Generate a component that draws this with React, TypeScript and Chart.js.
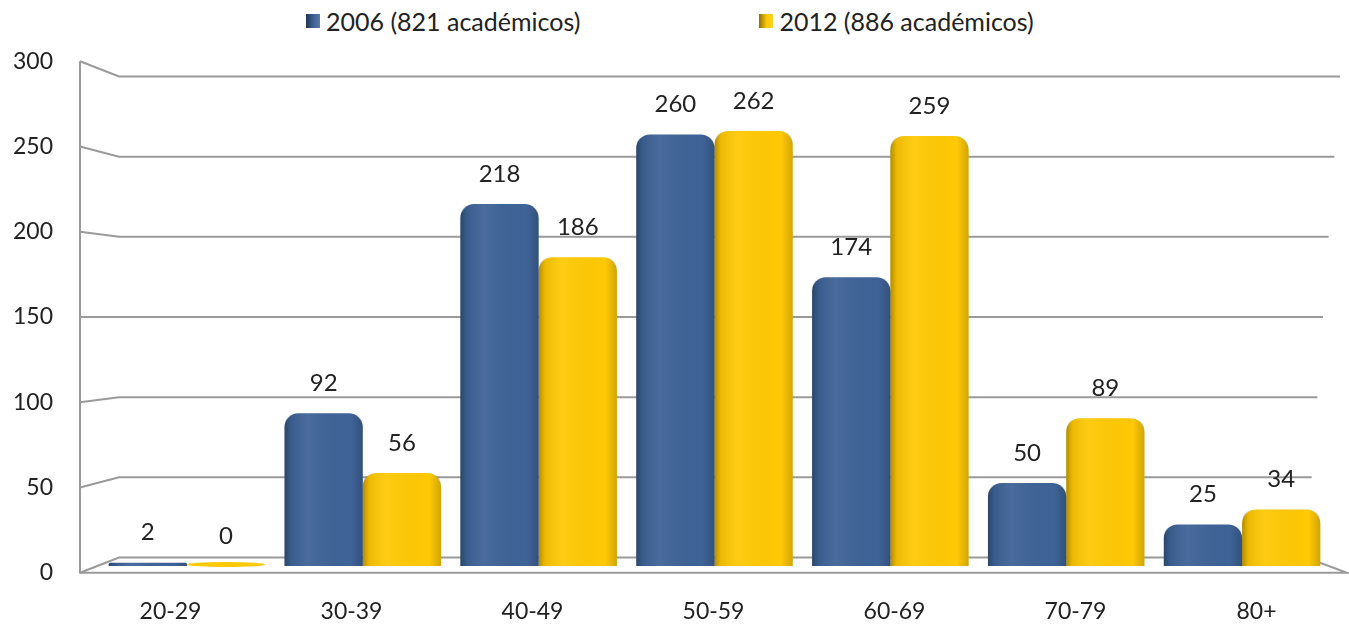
import React, { useEffect, useRef } from "react";
import { Chart, registerables } from "chart.js";

Chart.register(...registerables);

const categories = ["20-29", "30-39", "40-49", "50-59", "60-69", "70-79", "80+"];
const series2006 = [2, 92, 218, 260, 174, 50, 25];
const series2012 = [0, 56, 186, 262, 259, 89, 34];
const label2006 = "2006 (821 académicos)";
const label2012 = "2012 (886 académicos)";
const yTicks = [0, 50, 100, 150, 200, 250, 300];

const BLUE = "#3E6397";
const YELLOW = "#FFC905";
const GRID = "#9a9a9a";
const TEXT = "#222";
const FONT = "Lato, 'Open Sans', sans-serif";

// perspective geometry helpers (derived from the chart's own scales)
function geom(chart: any) {
  const { chartArea } = chart;
  const ys = chart.scales.y;
  const mid = ys.getPixelForValue(150);
  const frontY = (v: number) => mid + (ys.getPixelForValue(v) - mid) * 1.027;
  const backY = (v: number) => mid + (ys.getPixelForValue(v) - mid) * 0.966;
  const frontLeft = chartArea.left - 19;
  const frontRight = chartArea.right + 17;
  const backLeft = chartArea.left + 20;
  const backRight = (v: number) => chartArea.right - 24 + (34 * v) / 300;
  return { frontY, backY, frontLeft, frontRight, backLeft, backRight };
}

const walls = {
  id: "walls",
  beforeDatasetsDraw(chart: any) {
    const { ctx, chartArea } = chart;
    const g = geom(chart);
    ctx.save();
    ctx.strokeStyle = GRID;
    ctx.lineWidth = 2;
    yTicks.forEach((v) => {
      ctx.beginPath();
      ctx.moveTo(g.frontLeft, g.frontY(v));
      ctx.lineTo(g.backLeft, g.backY(v));
      ctx.lineTo(g.backRight(v), g.backY(v));
      ctx.stroke();
    });
    ctx.beginPath();
    ctx.moveTo(g.frontLeft, g.frontY(300));
    ctx.lineTo(g.frontLeft, g.frontY(0));
    ctx.lineTo(g.frontRight, g.frontY(0));
    ctx.lineTo(g.backRight(0), g.backY(0));
    ctx.stroke();

    // axis labels at the front edge of the walls / floor
    ctx.fillStyle = TEXT;
    ctx.font = `23px ${FONT}`;
    ctx.textAlign = "right";
    ctx.textBaseline = "middle";
    yTicks.forEach((v) => {
      ctx.fillText(String(v), g.frontLeft - 27, g.frontY(v));
    });
    ctx.textAlign = "center";
    const xs = chart.scales.x;
    const k = (g.frontRight - g.frontLeft) / (chartArea.right - chartArea.left);
    categories.forEach((c, i) => {
      const px = xs.getPixelForValue(i);
      ctx.fillText(c, g.frontLeft + (px - chartArea.left) * k, g.frontY(0) + 39);
    });
    ctx.restore();
  },
};

// shading on bars + value labels
const barDecor = {
  id: "barDecor",
  afterDatasetsDraw(chart: any) {
    const ctx = chart.ctx;
    ctx.save();
    chart.data.datasets.forEach((ds: any, di: number) => {
      const meta = chart.getDatasetMeta(di);
      meta.data.forEach((bar: any) => {
        const l = bar.x - bar.width / 2;
        const r = bar.x + bar.width / 2;
        const bot = bar.base;
        if (bot - bar.y < 2) {
          // flat sliver for (near) zero values
          ctx.fillStyle = ds.backgroundColor;
          ctx.beginPath();
          ctx.ellipse(bar.x, bot - 1.5, bar.width / 2, 2.5, 0, 0, Math.PI * 2);
          ctx.fill();
          return;
        }
        const top = bar.y;
        const g = ctx.createLinearGradient(l, 0, r, 0);
        g.addColorStop(0, "rgba(0,0,0,0.30)");
        g.addColorStop(0.08, "rgba(0,0,0,0.08)");
        g.addColorStop(0.3, "rgba(255,255,255,0.06)");
        g.addColorStop(0.85, "rgba(0,0,0,0.0)");
        g.addColorStop(1, "rgba(0,0,0,0.18)");
        const rad = Math.min(14, (bot - top) / 2, bar.width / 2);
        ctx.beginPath();
        ctx.moveTo(l, bot);
        ctx.lineTo(l, top + rad);
        ctx.quadraticCurveTo(l, top, l + rad, top);
        ctx.lineTo(r - rad, top);
        ctx.quadraticCurveTo(r, top, r, top + rad);
        ctx.lineTo(r, bot);
        ctx.closePath();
        ctx.fillStyle = g;
        ctx.fill();
      });
    });
    ctx.font = `24px ${FONT}`;
    ctx.fillStyle = TEXT;
    ctx.textAlign = "center";
    ctx.textBaseline = "middle";
    chart.data.datasets.forEach((ds: any, di: number) => {
      const meta = chart.getDatasetMeta(di);
      meta.data.forEach((bar: any, i: number) => {
        ctx.fillText(String(ds.data[i]), bar.x, bar.y - 30);
      });
    });
    ctx.restore();
  },
};

function LegendItem({ color, text }: { color: string; text: string }) {
  return (
    <div style={{ display: "flex", alignItems: "center" }}>
      <span
        style={{
          display: "inline-block",
          width: 14,
          height: 14,
          marginRight: 6,
          backgroundColor: color,
          backgroundImage: `linear-gradient(90deg, rgba(0,0,0,0.45), rgba(0,0,0,0) 55%, rgba(255,255,255,0.15))`,
        }}
      />
      <span style={{ fontFamily: FONT, fontSize: 25, color: TEXT }}>{text}</span>
    </div>
  );
}

export default function App() {
  const ref = useRef<HTMLCanvasElement>(null);

  useEffect(() => {
    if (!ref.current) return;
    const radius = { topLeft: 14, topRight: 14, bottomLeft: 0, bottomRight: 0 };
    const chart = new Chart(ref.current, {
      type: "bar",
      data: {
        labels: categories,
        datasets: [
          {
            label: label2006,
            data: series2006,
            backgroundColor: BLUE,
            borderRadius: radius,
            borderSkipped: false,
            categoryPercentage: 0.89,
            barPercentage: 1,
          },
          {
            label: label2012,
            data: series2012,
            backgroundColor: YELLOW,
            borderRadius: radius,
            borderSkipped: false,
            categoryPercentage: 0.89,
            barPercentage: 1,
          },
        ],
      },
      options: {
        animation: false,
        responsive: true,
        maintainAspectRatio: false,
        layout: { padding: { top: 68, right: 19, left: 0, bottom: 0 } },
        plugins: {
          legend: { display: false },
          tooltip: { enabled: false },
        },
        scales: {
          x: {
            grid: { display: false, drawTicks: false },
            border: { display: false },
            ticks: { display: false },
            afterFit: (s: any) => {
              s.height = 63;
            },
          },
          y: {
            min: 0,
            max: 300,
            afterBuildTicks: (s: any) => {
              s.ticks = yTicks.map((v) => ({ value: v }));
            },
            grid: { display: false, drawTicks: false },
            border: { display: false },
            ticks: { display: false },
            afterFit: (s: any) => {
              s.width = 99;
            },
          },
        },
      },
      plugins: [walls, barDecor],
    });
    return () => chart.destroy();
  }, []);

  return (
    <div style={{ position: "absolute", left: 0, top: 0, width: 1349, height: 629, background: "#fff" }}>
      <div
        style={{
          position: "absolute",
          top: 6,
          left: 306,
          display: "flex",
          gap: 179,
        }}
      >
        <LegendItem color={BLUE} text={label2006} />
        <LegendItem color={YELLOW} text={label2012} />
      </div>
      <div style={{ position: "absolute", left: 0, top: 0, width: 1349, height: 629 }}>
        <canvas ref={ref} />
      </div>
    </div>
  );
}
